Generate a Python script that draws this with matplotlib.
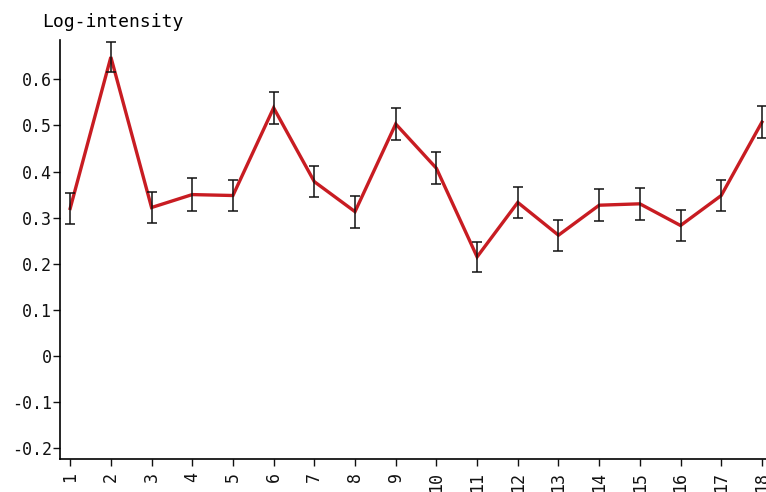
import matplotlib
matplotlib.use("Agg")
import matplotlib.pyplot as plt
import numpy as np

samples = [str(i) for i in range(1, 19)]
log_intensity = [0.320, 0.648, 0.322, 0.350, 0.348, 0.538, 0.378, 0.313, 0.503, 0.407,
                 0.215, 0.333, 0.262, 0.327, 0.330, 0.283, 0.348, 0.507]
err = [0.033, 0.033, 0.033, 0.035, 0.033, 0.034, 0.033, 0.035, 0.034, 0.035,
       0.033, 0.034, 0.034, 0.035, 0.034, 0.033, 0.033, 0.034]
yticks = [-0.2, -0.1, 0, 0.1, 0.2, 0.3, 0.4, 0.5, 0.6]
ytick_labels = ["-0.2", "-0.1", "0", "0.1", "0.2", "0.3", "0.4", "0.5", "0.6"]

plt.rcParams['font.family'] = ['DejaVu Sans Mono']
fig = plt.figure(figsize=(7.66, 4.92), dpi=100)
ax = fig.add_axes([60/766, 33/492, 706/766, 419/492])

x = np.arange(1, len(samples) + 1)
ax.plot(x, log_intensity, color='#c81c22', lw=2.4, zorder=2, solid_joinstyle='miter')
ax.errorbar(x, log_intensity, yerr=err, fmt='none', ecolor='#111111', elinewidth=1.1,
            capsize=3.6, capthick=1.1, zorder=3)

ax.set_xlim(0.75, 18.1)
ax.set_ylim(-0.223, 0.685)
ax.set_xticks(x)
ax.set_xticklabels(samples, rotation=90, fontsize=12)
ax.set_yticks(yticks)
ax.set_yticklabels(ytick_labels, fontsize=12)
for s in ['top', 'right']:
    ax.spines[s].set_visible(False)
for s in ['left', 'bottom']:
    ax.spines[s].set_linewidth(1.2)
ax.tick_params(axis='both', direction='out', length=5, width=1, colors='#111111')
ax.tick_params(axis='x', pad=4)
ax.tick_params(axis='y', pad=1)
fig.text(42/766, 1 - 22/492, "Log-intensity", fontsize=13, va='center', ha='left')

fig.savefig("out.png", dpi=100, facecolor='white')
